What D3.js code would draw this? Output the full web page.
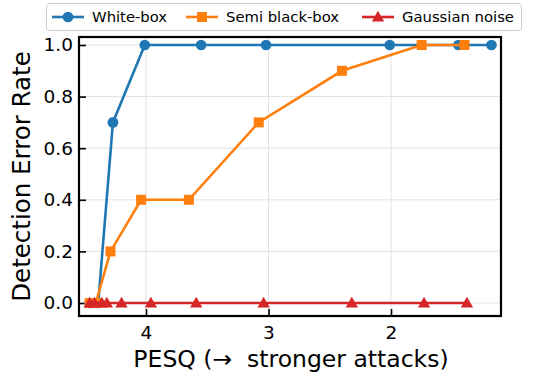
<!DOCTYPE html>
<html><head><meta charset="utf-8">
<script src="https://cdn.jsdelivr.net/npm/d3@7"></script>
<style>body{margin:0;background:#fff}svg{display:block}text{font-family:"DejaVu Sans",sans-serif}</style>
</head><body>
<svg id="c" width="533" height="373"></svg>
<script>
const seriesNames = ["White-box", "Semi black-box", "Gaussian noise"];
const colors = ["#1f77b4", "#ff7f0e", "#d62728"];
const whitePesq = [4.46, 4.39, 4.27, 4.01, 3.55, 3.02, 2.01, 1.45, 1.18];
const whiteErr  = [0.0, 0.0, 0.7, 1.0, 1.0, 1.0, 1.0, 1.0, 1.0];
const semiPesq  = [4.46, 4.41, 4.29, 4.04, 3.65, 3.08, 2.40, 1.75, 1.40];
const semiErr   = [0.0, 0.0, 0.2, 0.4, 0.4, 0.7, 0.9, 1.0, 1.0];
const gaussPesq = [4.46, 4.42, 4.36, 4.32, 4.20, 3.96, 3.59, 3.04, 2.32, 1.73, 1.38];
const gaussErr  = [0, 0, 0, 0, 0, 0, 0, 0, 0, 0, 0];
const xTicks = [4, 3, 2];
const yTicks = [0.0, 0.2, 0.4, 0.6, 0.8, 1.0];

const svg = d3.select("#c");
const L = 79, R = 501, T = 37, B = 316;
const x = d3.scaleLinear().domain([4.547, 1.102]).range([L, R]);
const y = d3.scaleLinear().domain([-0.0504, 1.031]).range([B, T]);

// grid
svg.append("g").selectAll("line").data(xTicks).join("line")
  .attr("x1", d => x(d)).attr("x2", d => x(d)).attr("y1", T).attr("y2", B)
  .attr("stroke", "#e3e3e3").attr("stroke-width", 1);
svg.append("g").selectAll("line").data(yTicks).join("line")
  .attr("y1", d => y(d)).attr("y2", d => y(d)).attr("x1", L).attr("x2", R)
  .attr("stroke", "#e3e3e3").attr("stroke-width", 1);

// axes with inward ticks
const xa = svg.append("g").attr("transform", `translate(0,${B})`)
  .call(d3.axisBottom(x).tickValues(xTicks).tickFormat(d3.format("d")).tickSizeInner(-7).tickSizeOuter(0).tickPadding(10));
const ya = svg.append("g").attr("transform", `translate(${L},0)`)
  .call(d3.axisLeft(y).tickValues(yTicks).tickFormat(d3.format(".1f")).tickSizeInner(-7).tickSizeOuter(0).tickPadding(6));
[xa, ya].forEach(a => {
  a.select(".domain").remove();
  a.selectAll(".tick line").attr("stroke", "#000").attr("stroke-width", 1.6);
  a.selectAll(".tick text").attr("font-size", 18.5).attr("fill", "#000").style("font-family", "DejaVu Sans");
});
xa.selectAll(".tick text").attr("dy", "0.71em").attr("y", 10);

// data
const data = [
  {p: whitePesq, e: whiteErr, shape: "circle"},
  {p: semiPesq, e: semiErr, shape: "square"},
  {p: gaussPesq, e: gaussErr, shape: "triangle"}
];
const line = d3.line().x(d => x(d[0])).y(d => y(d[1]));
const sym = {circle: d3.symbol(d3.symbolCircle, 90), square: d3.symbol(d3.symbolSquare, 100), triangle: d3.symbol(d3.symbolTriangle, 66)};
const plot = svg.append("g");
data.forEach((s, i) => {
  const pts = s.p.map((v, j) => [v, s.e[j]]);
  plot.append("path").attr("d", line(pts)).attr("fill", "none").attr("stroke", colors[i]).attr("stroke-width", 2.6);
  plot.append("g").selectAll("path").data(pts).join("path")
    .attr("transform", d => `translate(${x(d[0])},${y(d[1]) + (s.shape === "triangle" ? 1 : 0)})`)
    .attr("d", sym[s.shape]()).attr("fill", colors[i]);
});

// frame
svg.append("rect").attr("x", L).attr("y", T).attr("width", R - L).attr("height", B - T)
  .attr("fill", "none").attr("stroke", "#000").attr("stroke-width", 2.2);

// labels
svg.append("text").attr("x", 291).attr("y", 367).attr("text-anchor", "middle").attr("font-size", 23.5)
  .attr("xml:space", "preserve").style("white-space", "pre").text("PESQ (→  stronger attacks)");
svg.append("text").attr("transform", `translate(30,${(T + B) / 2}) rotate(-90)`).attr("text-anchor", "middle")
  .attr("font-size", 24.5).text("Detection Error Rate");

// legend
const lg = svg.append("g");
lg.append("rect").attr("x", 46.5).attr("y", 3.5).attr("width", 475).attr("height", 27).attr("rx", 3)
  .attr("fill", "#fff").attr("stroke", "#cccccc").attr("stroke-width", 1);
const lx = [52, 186, 362];
const shapes = ["circle", "square", "triangle"];
seriesNames.forEach((n, i) => {
  const g = lg.append("g").attr("transform", `translate(${lx[i]},17)`);
  g.append("line").attr("x1", 0).attr("x2", 32).attr("stroke", colors[i]).attr("stroke-width", 2.6);
  g.append("path").attr("transform", `translate(16,${shapes[i] === "triangle" ? 1 : 0})`).attr("d", sym[shapes[i]]()).attr("fill", colors[i]);
  g.append("text").attr("x", 40).attr("y", 5).attr("font-size", 14.8).text(n);
});
</script>
</body></html>
